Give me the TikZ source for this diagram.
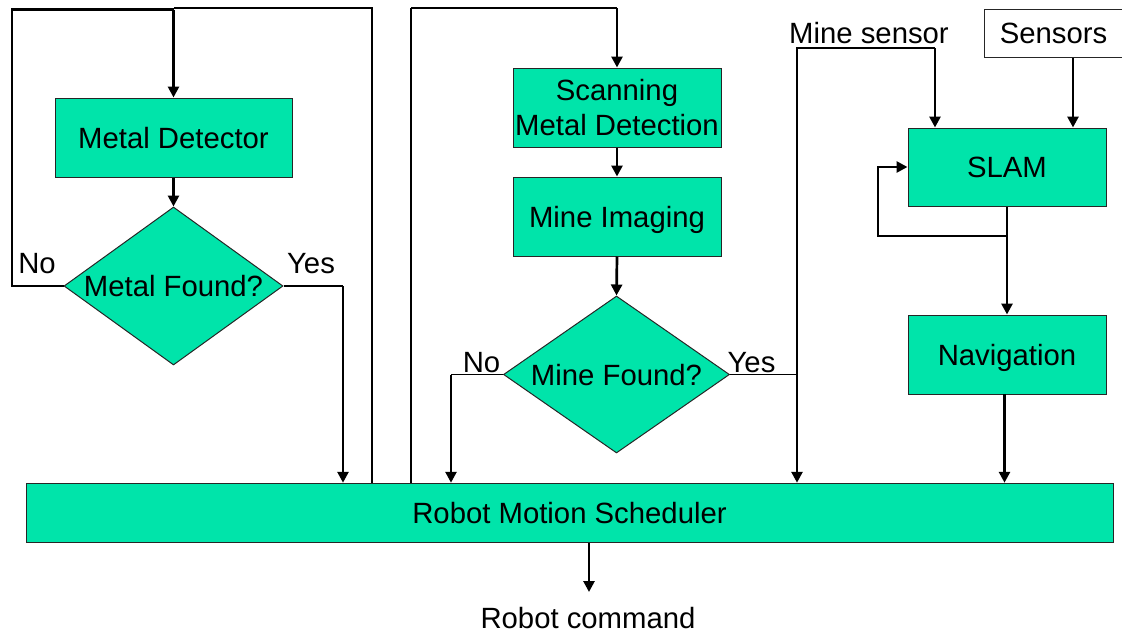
\documentclass[tikz,border=0pt]{standalone}
\usepackage{fontspec}
\setmainfont{Liberation Sans}
\usetikzlibrary{arrows.meta,shapes.geometric,calc}
\definecolor{boxgreen}{RGB}{0,228,170}
\begin{document}
\begin{tikzpicture}[x=1pt,y=-1pt,
  every node/.style={font=\fontsize{29.3}{35.2}\selectfont, inner sep=0pt},
  gbox/.style={draw=black!85, line width=1pt, fill=boxgreen, text height=21pt, text depth=0pt},
  gdia/.style={draw=black!85, line width=1pt, fill=boxgreen, diamond, text height=21pt, text depth=0pt},
  thickline/.style={line width=2.7pt},
  thinline/.style={line width=1.2pt},
  midline/.style={line width=1.8pt},
  arr/.style={line width=2.7pt, -{Triangle[length=11pt,width=11pt]}},
  lbl/.style={anchor=base}
]
\useasboundingbox (0,0) rectangle (1122,632);

% boxes
\node[gbox, minimum width=237pt, minimum height=79pt] (md) at (173.5,137.5) {Metal Detector};
\node[gdia, minimum width=219pt, minimum height=158pt, aspect=1.39] (mf) at (173.5,286) {Metal Found?};
\node[draw=black!85, line width=1pt, fill=boxgreen, minimum width=208pt, minimum height=79pt, align=center] (smd) at (617,107.5) {Scanning\\Metal Detection};
\node[gbox, minimum width=208pt, minimum height=79pt] (mi) at (617,216.5) {Mine Imaging};
\node[gdia, minimum width=226pt, minimum height=157pt, aspect=1.44] (mnf) at (616.5,374.5) {Mine Found?};
\node[gbox, minimum width=198pt, minimum height=78pt] (slam) at (1007,167) {SLAM};
\node[gbox, minimum width=198pt, minimum height=79pt] (nav) at (1007,354.5) {Navigation};
\node[gbox, minimum width=1087pt, minimum height=59pt] (sched) at (569.5,512.75) {Robot Motion Scheduler};
\node[draw=black!85, line width=1pt, fill=white, minimum width=139pt, minimum height=48pt, text height=21pt, text depth=0pt] (sens) at (1053.5,33) {Sensors};

% labels
\node[lbl] (ms) at (869,43.3) {Mine sensor};
\node[lbl] (rc) at (588,628) {Robot command};
\node[lbl] (no1) at (37,273) {No};
\node[lbl] (yes1) at (311,273) {Yes};
\node[lbl] (no2) at (481.5,372) {No};
\node[lbl] (yes2) at (751.5,372) {Yes};

% corner coordinates
\coordinate (c1) at (12,286);
\coordinate (c2) at (12,9.5);
\coordinate (c3) at (173.5,9.5);
\coordinate (c4) at (372,8);
\coordinate (c5) at (173.5,8);
\coordinate (c6) at (343,286);
\coordinate (c7) at (411,8);
\coordinate (c8) at (617,8);
\coordinate (c9) at (451,374.5);
\coordinate (c10) at (797,374.5);
\coordinate (c11) at (797,48);
\coordinate (c12) at (935,48);
\coordinate (c13) at (1007,236);
\coordinate (c14) at (878,236);
\coordinate (c15) at (878,167);
\coordinate (c16) at (589,592);
\coordinate (c17) at (1073,57);
\coordinate (c18) at (1004.5,394);

% left loop (No)
\draw[thickline, line join=miter] (mf.west) -- (c1) -- (c2) -- (c3);
\draw[arr] (c3) -- (md.north);
\draw[thinline] (sched.north -| c4) -- (c4) -- (c5);
\draw[arr] (md.south) -- (mf.north);
% Yes of metal
\draw[thinline] (mf.east) -- (c6);
\draw[arr] (c6) -- (sched.north -| c6);

% second loop
\draw[thinline] (sched.north -| c7) -- (c7);
\draw[midline] (c7) -- (c8);
\draw[arr] (c8) -- (smd.north);
\draw[arr] (smd.south) -- (mi.north);
\draw[arr] (mi.south) -- (mnf.north);
% No of mine
\draw[thinline] (mnf.west) -- (c9);
\draw[arr] (c9) -- (sched.north -| c9);
% Yes of mine
\draw[thinline] (mnf.east) -- (c10);
\draw[arr] (c10) -- (sched.north -| c10);
% mine sensor
\draw[thinline] (c10) -- (c11) -- (c12);
\draw[arr] (c12) -- (slam.north -| c12);
% sensors
\draw[arr] (sens.south -| c17) -- (slam.north -| c17);
% SLAM feedback
\draw[thickline] (slam.south) -- (c13);
\draw[arr] (c13) -- (nav.north);
\draw[arr, line join=miter] (c13) -- (c14) -- (c15) -- (slam.west);
% navigation
\draw[arr] (c18) -- (sched.north -| c18);
% output
\draw[arr] (sched.south -| c16) -- (c16);
\end{tikzpicture}
\end{document}
